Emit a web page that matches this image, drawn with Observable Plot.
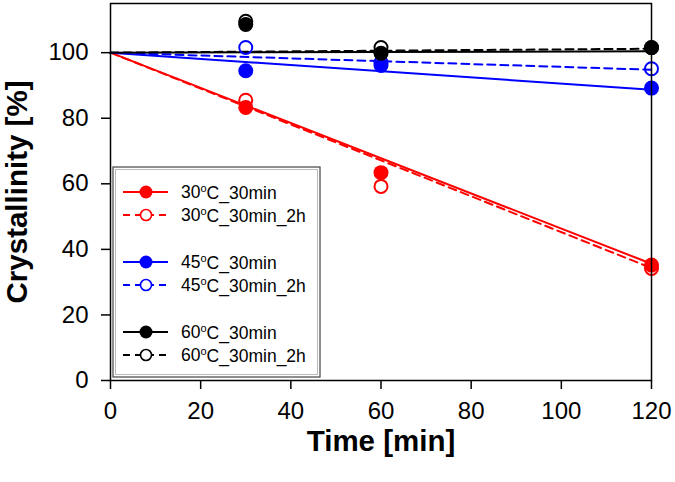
<!DOCTYPE html>
<html>
<head>
<meta charset="utf-8">
<script src="https://cdn.jsdelivr.net/npm/d3@7"></script>
<script src="https://cdn.jsdelivr.net/npm/@observablehq/plot@0.6"></script>
<style>
  body { margin: 0; background: #fff; }
  #chart { width: 675px; height: 482px; }
  #chart svg { font-family: Arial, "Liberation Sans", sans-serif; }
</style>
</head>
<body>
<div id="chart"></div>
<script>
// ---- data ----
const times = [30, 60, 120];
const fitTimes = [0, 120];
const xTicks = [0, 20, 40, 60, 80, 100, 120];
const yTicks = [0, 20, 40, 60, 80, 100];

const seriesTemp = ["30", "30", "45", "45", "60", "60"];
const seriesSuffix = ["_30min", "_30min_2h", "_30min", "_30min_2h", "_30min", "_30min_2h"];
const seriesColor = ["#ff0000", "#ff0000", "#0000ff", "#0000ff", "#000000", "#000000"];
const seriesFilled = [true, false, true, false, true, false];

const v30 = [83.3, 63.4, 35.2];
const v30_2h = [85.5, 59.2, 34.2];
const v45 = [94.5, 96.1, 89.2];
const v45_2h = [101.6, 97.0, 95.1];
const v60 = [108.6, 99.8, 101.6];
const v60_2h = [109.6, 101.6, 101.5];
const seriesValues = [v30, v30_2h, v45, v45_2h, v60, v60_2h];

// linear fits: start at 0 min, end at 120 min
const fitStart = [100, 100, 100, 100, 100, 100];
const fitEnd = [35.6, 34.3, 88.7, 94.8, 100.4, 101.2];

// ---- tidy tables ----
const points = [];
const fits = [];
seriesValues.forEach((vals, s) => {
  times.forEach((t, i) => points.push({s, t, v: vals[i], color: seriesColor[s], filled: seriesFilled[s]}));
  fits.push({s, t: fitTimes[0], v: fitStart[s], color: seriesColor[s], filled: seriesFilled[s]});
  fits.push({s, t: fitTimes[1], v: fitEnd[s], color: seriesColor[s], filled: seriesFilled[s]});
});

const dash = "8,5";

const chart = Plot.plot({
  width: 675,
  height: 482,
  marginLeft: 110,
  marginRight: 24,
  marginTop: 3,
  marginBottom: 102,
  style: {color: "black", background: "white", fontFamily: "Arial, 'Liberation Sans', sans-serif"},
  x: {domain: [0, 120]},
  y: {domain: [0, 115]},
  marks: [
    Plot.line(fits.filter(d => d.filled), {x: "t", y: "v", z: "s", stroke: "color", strokeWidth: 2}),
    Plot.line(fits.filter(d => !d.filled), {x: "t", y: "v", z: "s", stroke: "color", strokeWidth: 2, strokeDasharray: dash}),
    Plot.dot(points.filter(d => !d.filled), {x: "t", y: "v", r: 6.5, stroke: "color", strokeWidth: 2, fill: "none"}),
    Plot.dot(points.filter(d => d.filled), {x: "t", y: "v", r: 7.5, fill: "color", stroke: "none"}),
    Plot.frame({stroke: "black", strokeWidth: 1.5}),
    Plot.axisX({ticks: xTicks, tickSize: 9, tickPadding: 12, fontSize: 24, label: null, strokeWidth: 1.5}),
    Plot.axisY({ticks: yTicks, tickSize: 9, tickPadding: 13, fontSize: 24, label: null, strokeWidth: 1.5}),
    Plot.text(["Time [min]"], {frameAnchor: "bottom", dy: 61, lineAnchor: "middle", textAnchor: "middle", fontSize: 29.5, fontWeight: "bold", text: d => d}),
    Plot.text(["Crystallinity [%]"], {frameAnchor: "left", dx: -93, rotate: -90, lineAnchor: "middle", textAnchor: "middle", fontSize: 29.5, fontWeight: "bold", text: d => d})
  ]
});

// ---- legend inside the plot ----
const svg = d3.select(chart);
const lg = svg.append("g").attr("text-anchor", "start");
const bx = 113, by = 167, bw = 207, bh = 210;
lg.append("rect").attr("x", bx).attr("y", by).attr("width", bw).attr("height", bh)
  .attr("fill", "white").attr("stroke", "#444").attr("stroke-width", 1.2);
lg.append("rect").attr("x", bx + 2.5).attr("y", by + 2.5).attr("width", bw - 5).attr("height", bh - 5)
  .attr("fill", "none").attr("stroke", "#bbb").attr("stroke-width", 1);
const rowY = [192, 215, 262, 285, 332, 355];
seriesColor.forEach((c, s) => {
  const y = rowY[s];
  const g = lg.append("g");
  g.append("line").attr("x1", 123).attr("x2", 168).attr("y1", y).attr("y2", y)
    .attr("stroke", c).attr("stroke-width", 2).attr("stroke-dasharray", seriesFilled[s] ? null : "7,5");
  if (seriesFilled[s]) {
    g.append("circle").attr("cx", 146).attr("cy", y).attr("r", 6.5).attr("fill", c);
  } else {
    g.append("circle").attr("cx", 146).attr("cy", y).attr("r", 5.5).attr("fill", "white").attr("stroke", c).attr("stroke-width", 1.6);
  }
  const t = g.append("text").attr("x", 181).attr("y", y).attr("dy", "0.36em")
    .attr("text-anchor", "start").attr("font-size", 17.5).attr("fill", "black");
  t.append("tspan").text(seriesTemp[s]);
  t.append("tspan").attr("font-size", 11).attr("dy", "-0.6em").text("o");
  t.append("tspan").attr("dy", "0.4em").text("C" + seriesSuffix[s]);
});

document.getElementById("chart").appendChild(chart);
</script>
</body>
</html>
